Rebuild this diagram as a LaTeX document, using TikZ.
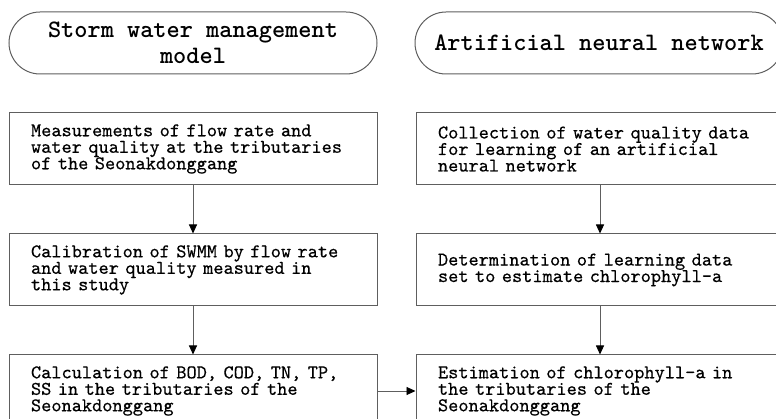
\documentclass[tikz,border=0pt]{standalone}
\usepackage{fontspec}
\newfontfamily\boxfont{lmmono10-regular.otf}[FakeBold=0.4]
\newfontfamily\headfont{lmmonolt10-bold.otf}
\usepackage{tikz}
\usetikzlibrary{arrows.meta,positioning}
\definecolor{clLine}{HTML}{5E5E5E}
\setlength{\lineskiplimit}{-20pt}
\tikzset{
  box/.style={rectangle, draw=clLine, line width=1pt, text width=324pt,
              inner xsep=22pt, inner ysep=0pt, minimum height=72pt, align=left,
              font=\boxfont\fontsize{19.4}{16.5}\selectfont},
  headline/.style={rectangle, rounded corners=31pt, draw=clLine, line width=1pt,
              minimum width=368pt, minimum height=62pt, align=center,
              font=\headfont\fontsize{25.1}{26.5}\selectfont},
  flow/.style={-{Triangle[length=9pt,width=8pt,color=black]}, draw=clLine, line width=0.9pt},
}

\begin{document}
\begin{tikzpicture}[x=1pt, y=-1pt, node distance=48pt and 38pt]
  \useasboundingbox (0,0) rectangle (776,419);
  % model headings
  \node[headline] (swmm) at (193,43) {Storm water management\\model};
  \node[headline, right=37pt of swmm] (ann) {Artificial neural network};
  % SWMM column
  \node[box, below=38pt of swmm] (s1) {Measurements of flow rate and\\water quality at the tributaries\\of the Seonakdonggang};
  \node[box, below=of s1] (s2) {Calibration of SWMM by flow rate\\and water quality measured in\\this study};
  \node[box, below=of s2] (s3) {Calculation of BOD, COD, TN, TP,\\SS in the tributaries of the\\Seonakdonggang};
  % ANN column
  \node[box, right=of s1] (a1) {Collection of water quality data\\for learning of an artificial\\neural network};
  \node[box, right=of s2] (a2) {Determination of learning data\\set to estimate chlorophyll-a};
  \node[box, right=of s3] (a3) {Estimation of chlorophyll-a in\\the tributaries of the\\Seonakdonggang};
  \draw[flow] (s1)--(s2); \draw[flow] (s2)--(s3);
  \draw[flow] (a1)--(a2); \draw[flow] (a2)--(a3);
  \draw[flow] (s3)--(a3);
\end{tikzpicture}
\end{document}
